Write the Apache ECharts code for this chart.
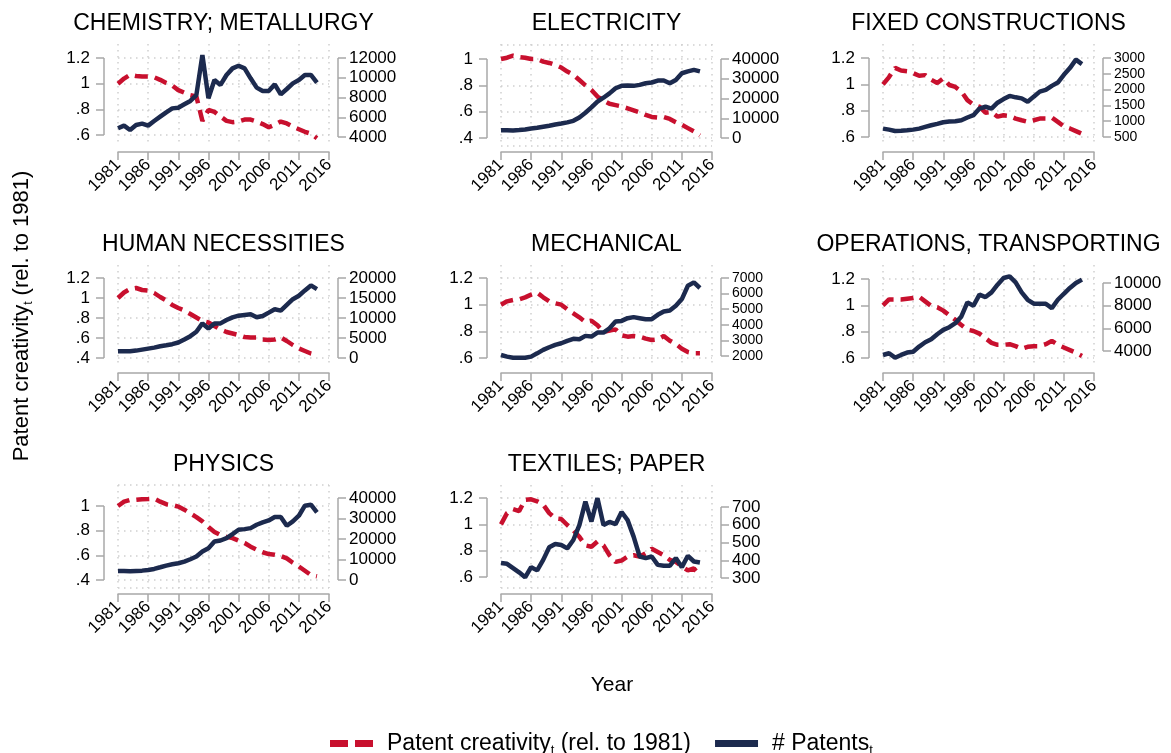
<!DOCTYPE html>
<html>
<head>
<meta charset="utf-8">
<script src="https://cdn.jsdelivr.net/npm/echarts@6/dist/echarts.min.js"></script>
<style>
html, body { margin: 0; padding: 0; background: #fff; }
#main { width: 1171px; height: 753px; }
</style>
</head>
<body>
<div id="main"></div>
<script>
var years = [1981, 1982, 1983, 1984, 1985, 1986, 1987, 1988, 1989, 1990, 1991, 1992, 1993, 1994, 1995, 1996, 1997,
	1998, 1999, 2000, 2001, 2002, 2003, 2004, 2005, 2006, 2007, 2008, 2009, 2010, 2011, 2012, 2013, 2014];

var titles = ['CHEMISTRY; METALLURGY', 'ELECTRICITY', 'FIXED CONSTRUCTIONS', 'HUMAN NECESSITIES', 'MECHANICAL',
	'OPERATIONS, TRANSPORTING', 'PHYSICS', 'TEXTILES; PAPER'];

// patent creativity (rel. to 1981) and number of patents, per section
var chemCreativity = [1.00, 1.04, 1.07, 1.06, 1.055, 1.055, 1.05, 1.03, 1.005, 0.985, 0.95, 0.93, 0.91, 0.90, 0.71, 0.795, 0.78,
	0.745, 0.71, 0.70, 0.705, 0.72, 0.72, 0.705, 0.685, 0.66, 0.68, 0.705, 0.69, 0.665, 0.645, 0.625, 0.61, 0.575];
var chemPatents = [4880, 5150, 4710, 5215, 5350, 5150, 5620, 6060, 6500, 6900, 6970, 7310, 7650, 8250, 12300, 7920, 9770,
	9270, 10280, 10950, 11220, 10950, 9940, 9000, 8660, 8660, 9330, 8320, 8860, 9430, 9770, 10280, 10280, 9500];

var elecCreativity = [1.0, 1.01, 1.025, 1.015, 1.01, 1.0, 1.0, 0.98, 0.97, 0.955, 0.935, 0.905, 0.88, 0.84, 0.80, 0.765, 0.715,
	0.685, 0.66, 0.65, 0.64, 0.625, 0.61, 0.595, 0.575, 0.56, 0.555, 0.56, 0.545, 0.52, 0.50, 0.475, 0.45, 0.42];
var elecPatents = [3900, 3900, 3800, 4000, 4300, 4800, 5200, 5700, 6200, 6800, 7300, 7900, 8700, 10400, 12800, 15500, 18400,
	20400, 22600, 25200, 26400, 26600, 26400, 26900, 27700, 28100, 29100, 29100, 27700, 29400, 32800, 33700, 34500, 33700];

var fixedCreativity = [1.0, 1.055, 1.125, 1.105, 1.10, 1.085, 1.065, 1.07, 1.035, 1.01, 1.045, 0.995, 0.98, 0.945, 0.88, 0.845, 0.83,
	0.785, 0.79, 0.755, 0.765, 0.76, 0.74, 0.727, 0.715, 0.727, 0.74, 0.74, 0.748, 0.715, 0.68, 0.665, 0.645, 0.625];
var fixedPatents = [766, 733, 690, 700, 713, 733, 766, 820, 872, 915, 968, 990, 1000, 1030, 1117, 1190, 1400,
	1457, 1400, 1585, 1700, 1800, 1755, 1723, 1617, 1777, 1936, 1990, 2117, 2223, 2468, 2681, 2947, 2808];

var humanCreativity = [1.0, 1.055, 1.09, 1.10, 1.08, 1.075, 1.05, 1.01, 0.975, 0.93, 0.90, 0.875, 0.84, 0.805, 0.77, 0.755, 0.72,
	0.685, 0.66, 0.645, 0.63, 0.61, 0.605, 0.605, 0.585, 0.58, 0.585, 0.605, 0.57, 0.53, 0.495, 0.47, 0.445, 0.43];
var humanPatents = [1680, 1680, 1680, 1850, 2100, 2350, 2600, 2940, 3190, 3450, 3870, 4620, 5460, 6550, 8650, 7400, 8650,
	8650, 9500, 10170, 10590, 10760, 10920, 10170, 10500, 11340, 12190, 11850, 13280, 14710, 15550, 16890, 18150, 17230];

var mechCreativity = [1.0, 1.025, 1.035, 1.04, 1.055, 1.075, 1.09, 1.055, 1.025, 1.01, 1.0, 0.965, 0.935, 0.905, 0.87, 0.88, 0.845,
	0.795, 0.805, 0.815, 0.77, 0.76, 0.765, 0.76, 0.745, 0.735, 0.74, 0.765, 0.73, 0.705, 0.67, 0.645, 0.635, 0.635];
var mechPatents = [2065, 1960, 1890, 1890, 1890, 1960, 2170, 2390, 2560, 2710, 2815, 2970, 3100, 3070, 3290, 3245, 3500,
	3500, 3780, 4210, 4250, 4425, 4490, 4425, 4360, 4360, 4640, 4855, 4920, 5220, 5650, 6500, 6720, 6360];

var opsCreativity = [1.0, 1.045, 1.045, 1.045, 1.05, 1.055, 1.065, 1.03, 0.995, 0.985, 0.96, 0.925, 0.89, 0.85, 0.815, 0.805, 0.785,
	0.75, 0.715, 0.70, 0.70, 0.705, 0.69, 0.67, 0.685, 0.69, 0.69, 0.705, 0.73, 0.70, 0.68, 0.66, 0.64, 0.615];
var opsPatents = [3650, 3800, 3410, 3650, 3860, 3940, 4390, 4770, 5040, 5480, 5860, 6100, 6450, 7050, 8290, 7990, 8970,
	8760, 9170, 9850, 10440, 10590, 10060, 9170, 8520, 8170, 8170, 8170, 7780, 8520, 9050, 9560, 10000, 10300];

var physCreativity = [1.0, 1.035, 1.05, 1.05, 1.055, 1.057, 1.06, 1.035, 1.015, 1.008, 0.995, 0.97, 0.94, 0.91, 0.875, 0.83, 0.79,
	0.765, 0.75, 0.74, 0.72, 0.70, 0.67, 0.645, 0.625, 0.61, 0.605, 0.595, 0.575, 0.54, 0.51, 0.475, 0.44, 0.43];
var physPatents = [4410, 4410, 4240, 4410, 4570, 4900, 5390, 6200, 7020, 7670, 8160, 8980, 10120, 11430, 13880, 15510, 18780,
	19270, 20410, 22370, 24490, 24820, 25310, 26940, 28080, 29060, 30690, 30690, 26450, 28570, 31350, 36240, 36730, 32980];

var textCreativity = [1.0, 1.085, 1.115, 1.10, 1.187, 1.19, 1.175, 1.15, 1.085, 1.045, 1.04, 0.995, 0.955, 0.905, 0.84, 0.83, 0.87,
	0.84, 0.765, 0.715, 0.725, 0.755, 0.765, 0.755, 0.78, 0.815, 0.79, 0.765, 0.73, 0.715, 0.68, 0.65, 0.665, 0.61];
var textPatents = [384, 380, 356, 332, 304, 361, 343, 402, 473, 492, 486, 467, 514, 598, 730, 618, 750,
	598, 616, 603, 672, 626, 533, 421, 412, 421, 374, 369, 369, 412, 361, 425, 393, 387];

var creativity = [chemCreativity, elecCreativity, fixedCreativity, humanCreativity, mechCreativity, opsCreativity, physCreativity, textCreativity];
var patents = [chemPatents, elecPatents, fixedPatents, humanPatents, mechPatents, opsPatents, physPatents, textPatents];

var leftTicks = [[0.6, 0.8, 1, 1.2], [0.4, 0.6, 0.8, 1], [0.6, 0.8, 1, 1.2], [0.4, 0.6, 0.8, 1, 1.2],
	[0.6, 0.8, 1, 1.2], [0.6, 0.8, 1, 1.2], [0.4, 0.6, 0.8, 1], [0.6, 0.8, 1, 1.2]];
var rightTicks = [[4000, 6000, 8000, 10000, 12000], [0, 10000, 20000, 30000, 40000], [500, 1000, 1500, 2000, 2500, 3000],
	[0, 5000, 10000, 15000, 20000], [2000, 3000, 4000, 5000, 6000, 7000], [4000, 6000, 8000, 10000],
	[0, 10000, 20000, 30000, 40000], [300, 400, 500, 600, 700]];

// layout (pixels)
var colLeft = [118, 501, 883];
var rowTop = [44, 265, 485];
var rowBottom = [146, 367, 588];
var plotWidth = 211;
var leftTickPx = [[135, 58], [138, 59], [137, 58], [358, 278], [358, 278], [358, 279], [580, 506], [577, 498]];
var rightTickPx = [[137, 58], [138, 59], [137, 58], [358, 278], [356, 278], [351, 283], [580, 498], [578, 507]];

var RED = '#c8102e';
var NAVY = '#1c2a4e';
var AXIS = '#a8a8a8';
var GRID = '#cfcfcf';
var FONT = '"Liberation Sans", Arial, Helvetica, sans-serif';
var DOTS = [1.5, 4.5];

function axisRange(ticks, px, gTop, gBottom) {
	var lo = ticks[0], hi = ticks[ticks.length - 1];
	var per = (hi - lo) / (px[0] - px[1]);
	return [lo - (gBottom - px[0]) * per, hi + (px[1] - gTop) * per];
}

function stataNum(v) {
	var s = String(Math.round(v * 100) / 100);
	return s.replace(/^0\./, '.');
}
function plainNum(v) {
	return String(Math.round(v));
}

var grids = [], xAxes = [], yAxes = [], series = [], graphics = [];

for (var i = 0; i < 8; i++) {
	var row = Math.floor(i / 3), col = i % 3;
	var gTop = rowTop[row], gBottom = rowBottom[row];
	grids.push({ left: colLeft[col], top: gTop, width: plotWidth, height: gBottom - gTop });

	xAxes.push({
		gridIndex: i, type: 'value', min: 1981, max: 2016, interval: 5, offset: 6,
		axisLine: { show: true, onZero: false, lineStyle: { color: AXIS, width: 1.5 } },
		axisTick: { show: true, length: 8, lineStyle: { color: AXIS, width: 1.5 } },
		axisLabel: { rotate: 45, margin: 10, fontSize: 17, color: '#000', fontFamily: FONT, formatter: plainNum,
			showMinLabel: true, showMaxLabel: true, hideOverlap: false },
		splitLine: { show: true, lineStyle: { color: GRID, width: 1.5, type: DOTS } }
	});

	var lr = axisRange(leftTicks[i], leftTickPx[i], gTop, gBottom);
	var rr = axisRange(rightTicks[i], rightTickPx[i], gTop, gBottom);

	// right axes with tightly packed ticks get a smaller font so no label is dropped
	var rightGap = (rightTickPx[i][0] - rightTickPx[i][1]) / (rightTicks[i].length - 1);
	var rightFont = rightGap < 17 ? 14 : 17;

	yAxes.push({
		gridIndex: i, type: 'value', position: 'left', offset: 14, min: lr[0], max: lr[1],
		axisLine: { show: false, onZero: false },
		axisTick: { show: true, length: 8, customValues: leftTicks[i], lineStyle: { color: AXIS, width: 1.5 } },
		axisLabel: { customValues: leftTicks[i], margin: 14, fontSize: 17, color: '#000', fontFamily: FONT,
			formatter: stataNum, showMinLabel: true, showMaxLabel: true, hideOverlap: false },
		splitLine: { show: false }
	});
	yAxes.push({
		gridIndex: i, type: 'value', position: 'right', offset: 9, min: rr[0], max: rr[1],
		axisLine: { show: false, onZero: false },
		axisTick: { show: true, length: 8, customValues: rightTicks[i], lineStyle: { color: AXIS, width: 1.5 } },
		axisLabel: { customValues: rightTicks[i], margin: 11, fontSize: rightFont, color: '#000', fontFamily: FONT,
			formatter: plainNum, showMinLabel: true, showMaxLabel: true, hideOverlap: false },
		splitLine: { show: false }
	});

	var cre = [], pat = [];
	for (var k = 0; k < years.length; k++) {
		cre.push([years[k], creativity[i][k]]);
		pat.push([years[k], patents[i][k]]);
	}
	// dotted horizontal grid at the left ticks and at the plot region edges
	var gridLines = [];
	var gv = leftTicks[i].concat([lr[0], lr[1]]);
	for (var m = 0; m < gv.length; m++) gridLines.push({ yAxis: gv[m] });

	series.push({
		name: 'Patent creativity', type: 'line', xAxisIndex: i, yAxisIndex: 2 * i, data: cre,
		symbol: 'none', silent: true, z: 2,
		lineStyle: { color: RED, width: 4.5, type: [13, 7] }, itemStyle: { color: RED },
		markLine: {
			silent: true, symbol: 'none', z: 1, animation: false, label: { show: false },
			lineStyle: { color: GRID, width: 1.5, type: DOTS }, emphasis: { disabled: true },
			data: gridLines
		}
	});
	series.push({
		name: '# Patents', type: 'line', xAxisIndex: i, yAxisIndex: 2 * i + 1, data: pat,
		symbol: 'none', silent: true, z: 3,
		lineStyle: { color: NAVY, width: 4.5 }, itemStyle: { color: NAVY }
	});

	graphics.push({
		type: 'text', x: colLeft[col] + plotWidth / 2, y: gTop - 20,
		style: { text: titles[i], align: 'center', verticalAlign: 'middle', fontSize: 23, fontFamily: FONT, fill: '#000' }
	});
	// y axis lines span only from the lowest to the highest tick
	var lx = colLeft[col] - 14, rx = colLeft[col] + plotWidth + 9;
	graphics.push({ type: 'line', shape: { x1: lx, y1: leftTickPx[i][0], x2: lx, y2: leftTickPx[i][1] }, style: { stroke: AXIS, lineWidth: 1.5 } });
	graphics.push({ type: 'line', shape: { x1: rx, y1: rightTickPx[i][0], x2: rx, y2: rightTickPx[i][1] }, style: { stroke: AXIS, lineWidth: 1.5 } });
}

graphics.push({
	type: 'text', x: 22, y: 316, rotation: Math.PI / 2,
	style: {
		text: '{m|Patent creativity}{s|t}{m| (rel. to 1981)}', align: 'center', verticalAlign: 'middle',
		rich: {
			m: { fontSize: 22, fontFamily: FONT, fill: '#000', lineHeight: 26 },
			s: { fontSize: 12, fontFamily: FONT, fill: '#000', lineHeight: 14, verticalAlign: 'bottom' }
		}
	}
});
graphics.push({
	type: 'text', x: 612, y: 685,
	style: { text: 'Year', align: 'center', verticalAlign: 'middle', fontSize: 21, fontFamily: FONT, fill: '#000' }
});

var option = {
	animation: false,
	backgroundColor: '#fff',
	grid: grids,
	xAxis: xAxes,
	yAxis: yAxes,
	series: series,
	graphic: graphics,
	legend: {
		left: 325, top: 727, itemWidth: 43, itemHeight: 7, itemGap: 24,
		data: [
			{ name: 'Patent creativity', icon: 'path://M0,0H18V7H0Z M25,0H43V7H25Z' },
			{ name: '# Patents', icon: 'rect' }
		],
		formatter: function (name) {
			return name === '# Patents' ? '{m|# Patents}{s|t}' : '{m|Patent creativity}{s|t}{m| (rel. to 1981)}';
		},
		textStyle: {
			padding: [0, 0, 0, 9],
			rich: {
				m: { fontSize: 23, fontFamily: FONT, color: '#000', lineHeight: 26 },
				s: { fontSize: 13, fontFamily: FONT, color: '#000', lineHeight: 15, verticalAlign: 'bottom' }
			}
		}
	}
};

var chart = echarts.init(document.getElementById('main'));
chart.setOption(option);
</script>
</body>
</html>
